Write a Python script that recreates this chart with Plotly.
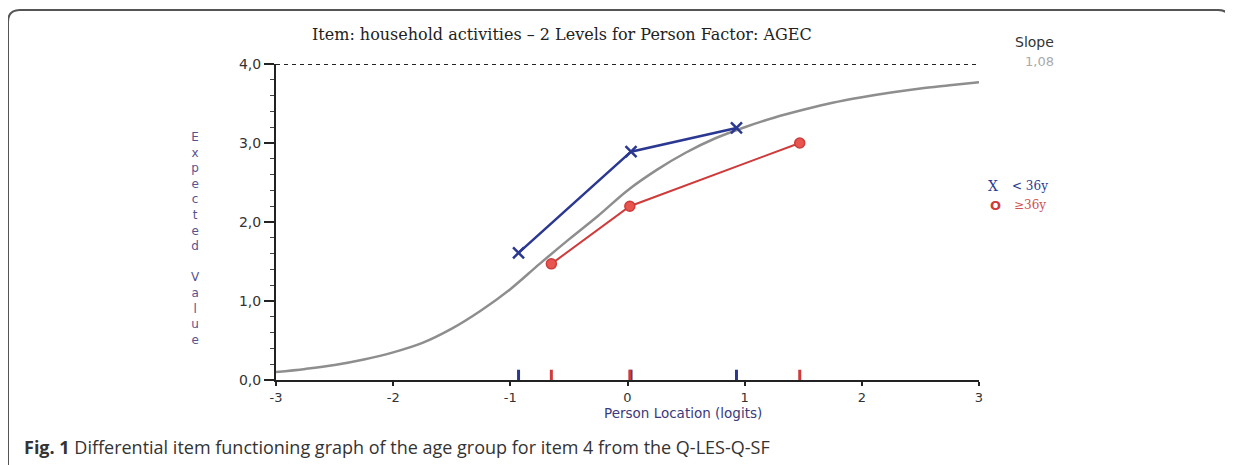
import plotly.graph_objects as go

# ---- data ----
curve_x = [-3.0, -2.75, -2.5, -2.25, -2.0, -1.75, -1.5, -1.25, -1.0, -0.75, -0.5, -0.25,
           0.0, 0.25, 0.5, 0.75, 1.0, 1.25, 1.5, 1.75, 2.0, 2.25, 2.5, 2.75, 3.0]
curve_y = [0.10, 0.14, 0.19, 0.26, 0.35, 0.47, 0.65, 0.88, 1.15, 1.47, 1.78, 2.08,
           2.40, 2.66, 2.88, 3.06, 3.20, 3.32, 3.42, 3.51, 3.58, 3.64, 3.69, 3.73, 3.77]

young_x = [-0.93, 0.03, 0.93]
young_y = [1.61, 2.89, 3.19]
old_x = [-0.65, 0.02, 1.47]
old_y = [1.47, 2.20, 3.00]

x_ticks = [-3, -2, -1, 0, 1, 2, 3]
x_tick_labels = ["-3", "-2", "-1", "0", "1", "2", "3"]
y_ticks = [0, 1, 2, 3, 4]
y_tick_labels = ["0,0", "1,0", "2,0", "3,0", "4,0"]
max_score = 4.0
slope_value = "1,08"

BLUE = "#2b3892"
RED = "#cf3b3b"
OFF = 8                      # page body margin
W, H = 1233 - OFF, 465 - OFF
L, T = 276 - OFF, 64 - OFF   # plot area in figure coords
PW, PH = 703, 316
R = W - L - PW
B = H - T - PH


def px(xp):                  # screen x pixel -> paper
    return (xp - OFF - L) / PW


def py(yp):                  # screen y pixel -> paper
    return (T + PH - (yp - OFF)) / PH


fig = go.Figure()

fig.add_trace(go.Scatter(x=curve_x, y=curve_y, mode="lines",
                         line=dict(color="#8e8e8e", width=2.5, shape="spline"),
                         showlegend=False, hoverinfo="skip"))

fig.add_trace(go.Scatter(x=[x_ticks[0], x_ticks[-1]], y=[max_score, max_score], mode="lines",
                         line=dict(color="#222", width=2, dash="4px,4px"),
                         showlegend=False, hoverinfo="skip", cliponaxis=False))


def rug(xs):
    xx, yy = [], []
    for v in xs:
        xx += [v, v, None]
        yy += [0, 0.13, None]
    return xx, yy


for xs, col in [(young_x, BLUE), (old_x, RED)]:
    rx, ry = rug(xs)
    fig.add_trace(go.Scatter(x=rx, y=ry, mode="lines", line=dict(color=col, width=3),
                             showlegend=False, hoverinfo="skip", cliponaxis=False))

fig.add_trace(go.Scatter(x=young_x, y=young_y, mode="lines+markers", name="< 36y",
                         line=dict(color=BLUE, width=2.5),
                         marker=dict(symbol="x-thin-open", size=11, line=dict(color=BLUE, width=2.5)),
                         showlegend=False, cliponaxis=False))
fig.add_trace(go.Scatter(x=old_x, y=old_y, mode="lines+markers", name="≥36y",
                         line=dict(color=RED, width=2),
                         marker=dict(symbol="circle", size=10, color="#e8554e", line=dict(color=RED, width=1.5)),
                         showlegend=False, cliponaxis=False))

annotations = [
    dict(text="Item: household activities – 2 Levels for Person Factor: AGEC",
         x=px(562), y=py(35), font=dict(family="DejaVu Serif", size=16, color="#222")),
    dict(text="Slope", x=px(1034), y=py(42), font=dict(family="DejaVu Sans", size=14, color="#333")),
    dict(text=slope_value, x=px(1039), y=py(62), font=dict(family="DejaVu Sans", size=13, color="#aaa")),
    dict(text="X", x=px(993), y=py(186), font=dict(family="DejaVu Serif", size=14, color=BLUE)),
    dict(text="< 36y", x=px(1030), y=py(186), font=dict(family="DejaVu Serif", size=12, color=BLUE)),
    dict(text="<b>O</b>", x=px(995), y=py(205), font=dict(family="DejaVu Sans", size=13, color=RED)),
    dict(text="≥36y", x=px(1030), y=py(205), font=dict(family="DejaVu Serif", size=12, color="#d05050")),
    dict(text="<br>".join(list("Expected")) + "<br><br>" + "<br>".join(list("Value")),
         x=px(195), y=py(238), font=dict(family="DejaVu Sans", size=12, color="#5a528f")),
    dict(text="Person Location (logits)", x=px(683), y=py(413),
         font=dict(family="DejaVu Sans", size=13.5, color="#3a3a7c")),
    dict(text="<b>Fig. 1</b> Differential item functioning graph of the age group for item 4 from the Q-LES-Q-SF",
         x=px(22), y=py(447), xanchor="left", font=dict(family="Open Sans", size=18, color="#333")),
]
for a in annotations:
    a.setdefault("xanchor", "center")
    a.update(xref="paper", yref="paper", yanchor="middle", showarrow=False)

r_x, r_y = 12 / PW, 12 / PH
x0, x1, y1, y0 = px(8), px(1230), py(10), py(480)
frame_path = (f"M {x0},{y0} L {x0},{y1 - r_y} Q {x0},{y1} {x0 + r_x},{y1} "
              f"L {x1 - r_x},{y1} Q {x1},{y1} {x1},{y1 - r_y}")
shapes = [
    dict(type="path", path=frame_path, xref="paper", yref="paper",
         line=dict(color="#555", width=2)),
    dict(type="line", x0=x1, x1=x1, y0=y1 - r_y, y1=y0, xref="paper", yref="paper",
         line=dict(color="#e2e2e2", width=1.5)),
]

fig.update_layout(
    width=W, height=H,
    margin=dict(l=L, r=R, t=T, b=B, pad=0),
    paper_bgcolor="white", plot_bgcolor="white",
    separators=",.",
    annotations=annotations, shapes=shapes,
    xaxis=dict(range=[-3, 3], tickvals=x_ticks, ticktext=x_tick_labels, showgrid=False, zeroline=False,
               showline=True, linecolor="#222", linewidth=2, ticks="outside", ticklen=4,
               tickwidth=1.5, tickcolor="#222",
               tickfont=dict(family="DejaVu Sans", size=13, color="#333")),
    yaxis=dict(range=[0, 4], tickvals=y_ticks, ticktext=y_tick_labels, showgrid=False, zeroline=False,
               showline=True, linecolor="#222", linewidth=2, ticks="outside", ticklen=10,
               tickwidth=1.5, tickcolor="#222",
               minor=dict(dtick=0.2, ticks="outside", ticklen=4, tickwidth=1.2, tickcolor="#444"),
               tickfont=dict(family="DejaVu Sans", size=14, color="#333")),
    showlegend=False,
)

fig.write_html("out.html")
